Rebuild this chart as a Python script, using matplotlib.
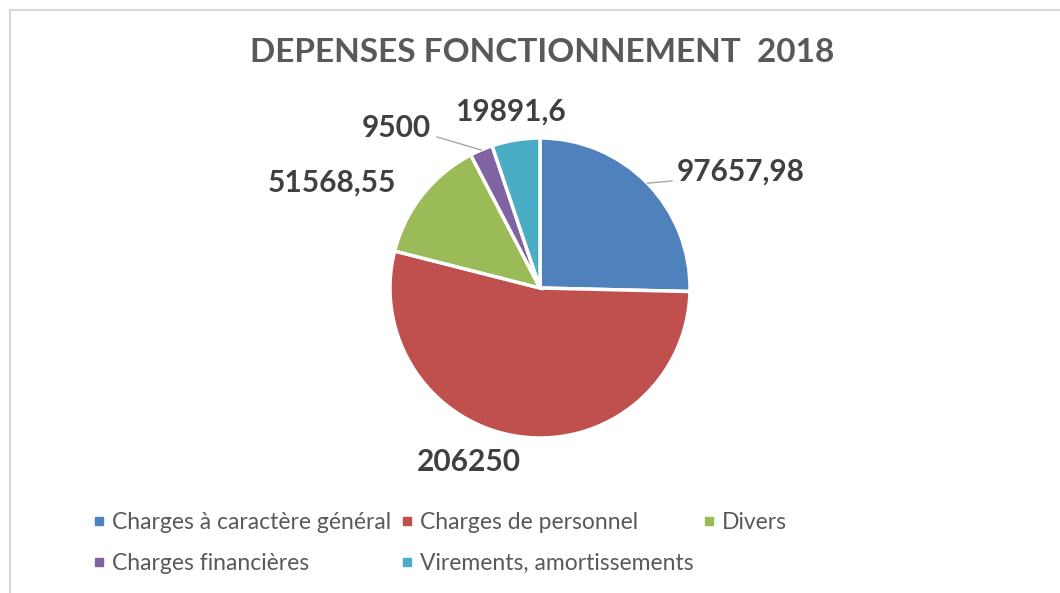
import numpy as np
import matplotlib.pyplot as plt
from matplotlib.lines import Line2D

# data
categories = ["Charges à caractère général", "Charges de personnel", "Divers",
              "Charges financières", "Virements, amortissements"]
values = [97657.98, 206250, 51568.55, 9500, 19891.6]
value_labels = ["97657,98", "206250", "51568,55", "9500", "19891,6"]
colors = ["#4F81BD", "#C0504D", "#9BBB59", "#8064A2", "#4BACC6"]

W, H = 1060, 593
fig = plt.figure(figsize=(W / 100, H / 100), dpi=100)
ax = fig.add_axes([0, 0, 1, 1])

cx, cy, r = 540, H - 288, 150
wedges, _ = ax.pie(values, colors=colors, startangle=90, counterclock=False,
                   center=(cx, cy), radius=r,
                   wedgeprops=dict(edgecolor="white", linewidth=2.5))
ax.set_xlim(0, W)
ax.set_ylim(0, H)
ax.set_aspect("equal")
ax.axis("off")

# label layout (pixel coords, y from top) and which ones get a leader line
label_pos = [(741, 172), (469, 462), (332, 183), (396, 128), (510, 112)]
leader_end = [(672, 181), None, None, (437, 137), None]

for w, txt, (lx, ly), end in zip(wedges, value_labels, label_pos, leader_end):
    ax.text(lx, H - ly, txt, ha="center", va="center", fontsize=21.5,
            fontweight="bold", color="#404040", family="Lato")
    if end is not None:
        mid = np.deg2rad((w.theta1 + w.theta2) / 2)
        ex, ey = cx + r * np.cos(mid), cy + r * np.sin(mid)
        ax.plot([ex, end[0]], [ey, H - end[1]], color="#a6a6a6", lw=1)

fig.text(542 / W, 1 - 53 / H, "DEPENSES FONCTIONNEMENT  2018", ha="center",
         va="center", fontsize=24, fontweight="bold", color="#595959",
         family="Lato")

# legend, filled row-wise like the original
order = [0, 3, 1, 4, 2]
handles = [Line2D([], [], marker="s", ls="", color=colors[i], markersize=5.5)
           for i in order]
labels = [categories[i] for i in order]
fig.legend(handles, labels, ncol=3, loc="upper left",
           bbox_to_anchor=(82 / W, 1 - 501 / H), frameon=False,
           prop=dict(family="Lato", size=16.5), labelcolor="#595959",
           handlelength=0.5, handletextpad=0.3, columnspacing=0.45,
           labelspacing=0.85, borderpad=0)

# chart area border (only top and left visible)
fig.add_artist(Line2D([10 / W, 1], [1 - 10 / H, 1 - 10 / H], color="#d9d9d9",
                      lw=1.5, transform=fig.transFigure))
fig.add_artist(Line2D([10 / W, 10 / W], [1 - 10 / H, 0], color="#d9d9d9",
                      lw=1.5, transform=fig.transFigure))

fig.savefig("out.png", dpi=100, facecolor="white")
